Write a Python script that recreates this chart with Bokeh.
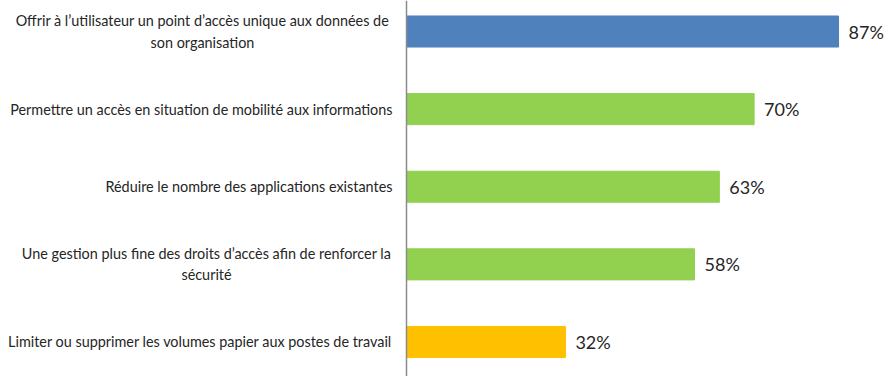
from bokeh.plotting import figure
from bokeh.models import ColumnDataSource, Span
from bokeh.core.properties import value
from bokeh.embed import file_html
from bokeh.resources import INLINE

categories = [
    "Offrir à l\u2019utilisateur un point d\u2019accès unique aux données de\nson organisation",
    "Permettre un accès en situation de mobilité aux informations",
    "Réduire le nombre des applications existantes",
    "Une gestion plus fine des droits d\u2019accès afin de renforcer la\nsécurité",
    "Limiter ou supprimer les volumes papier aux postes de travail",
]
values = [87, 70, 63, 58, 32]
colors = ["#4f81bd", "#92d050", "#92d050", "#92d050", "#ffc000"]
value_labels = [f"{v}%" for v in values]

n = len(categories)
ypos = [n - i for i in range(n)]  # top to bottom

PX_PER_UNIT = 4.966          # pixels per percentage point
LABEL_RIGHT = -14 / PX_PER_UNIT   # right edge of category labels (data units)
# width of the widest line of each wrapped category label, in pixels (for centring)
block_px = [380, 0, 0, 372, 0]

src = ColumnDataSource(dict(y=ypos, v=values, c=colors, lab=value_labels))

single = [i for i, c in enumerate(categories) if "\n" not in c]
multi = [i for i, c in enumerate(categories) if "\n" in c]
src_single = ColumnDataSource(dict(y=[ypos[i] for i in single],
                                   t=[categories[i] for i in single]))
src_multi = ColumnDataSource(dict(
    y=[ypos[i] for i in multi],
    t=[categories[i] for i in multi],
    x=[LABEL_RIGHT - block_px[i] / 2 / PX_PER_UNIT for i in multi]))

p = figure(width=894, height=376, output_backend="svg", toolbar_location=None,
           x_range=(-406 / PX_PER_UNIT, 488 / PX_PER_UNIT),
           y_range=(1 - 34.5 / 77.6, 5 + 31 / 77.6),
           min_border=0, min_border_left=0, min_border_right=0,
           min_border_top=0, min_border_bottom=0)
p.axis.visible = False
p.grid.visible = False
p.outline_line_color = None
p.background_fill_color = "white"
p.border_fill_color = "white"

p.hbar(y="y", left=0, right="v", height=0.4, fill_color="c", line_color="c",
       line_width=1, source=src)

p.add_layout(Span(location=0, dimension="height", line_color="#8c8c8c",
                  line_width=1.5))

p.text(x="v", y="y", text="lab", source=src, text_align="left",
       text_baseline="middle", x_offset=10, text_font=value("Lato"),
       text_font_size="18px", text_color="#262626")

common = dict(text_baseline="middle", text_font=value("Lato"),
              text_font_size="14.4px", text_color="#262626",
              text_line_height=1.25)
p.text(x=LABEL_RIGHT, y="y", text="t", source=src_single, text_align="right",
       **common)
p.text(x="x", y="y", text="t", source=src_multi, text_align="center",
       **common)

open("out.html", "w").write(file_html(p, INLINE))
